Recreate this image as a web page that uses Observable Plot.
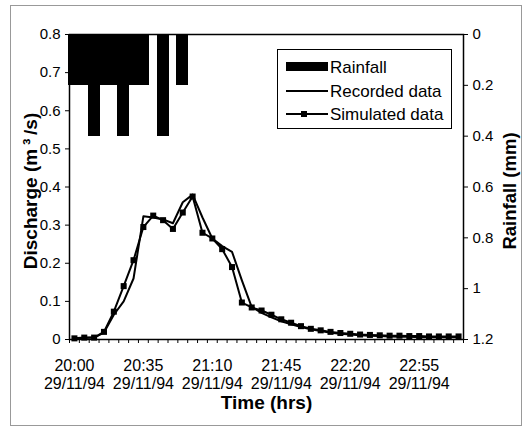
<!DOCTYPE html>
<html><head><meta charset="utf-8">
<script src="https://cdn.jsdelivr.net/npm/d3@7"></script>
<script src="https://cdn.jsdelivr.net/npm/@observablehq/plot@0.6"></script>
<style>
body{margin:0;background:#fff;font-family:"Liberation Sans",Arial,sans-serif;}
#wrap{position:relative;width:525px;height:427px;overflow:hidden;}
#wrap svg{position:absolute;left:0;top:0;}
#border{position:absolute;left:10px;top:5px;width:512px;height:421px;border:1px solid #999;box-sizing:border-box;pointer-events:none;}
#legend{position:absolute;left:277px;top:49px;width:175px;height:80px;border:1.5px solid #000;background:#fff;box-sizing:border-box;}
#legend svg{position:absolute;left:0;top:0;}
</style></head>
<body><div id="wrap"></div>
<script>
// Category times (5-minute steps)
const times = ["20:00","20:05","20:10","20:15","20:20","20:25","20:30","20:35","20:40","20:45",
  "20:50","20:55","21:00","21:05","21:10","21:15","21:20","21:25","21:30","21:35",
  "21:40","21:45","21:50","21:55","22:00","22:05","22:10","22:15","22:20","22:25",
  "22:30","22:35","22:40","22:45","22:50","22:55","23:00","23:05","23:10","23:15"];
const tickLabels = ["20:00","20:35","21:10","21:45","22:20","22:55"];
const dateLabel = "29/11/94";

// Discharge (m3/s)
const recorded = [0.003,0.004,0.005,0.018,0.065,0.10,0.16,0.323,0.32,0.315,
  0.305,0.36,0.38,0.32,0.265,0.245,0.23,0.155,0.085,0.07,
  0.058,0.048,0.04,0.033,0.027,0.022,0.018,0.015,0.013,0.011,
  0.01,0.009,0.008,0.007,0.007,0.006,0.006,0.006,0.006,0.006];
const simulated = [0.003,0.005,0.005,0.02,0.073,0.14,0.208,0.295,0.325,0.313,
  0.29,0.333,0.375,0.28,0.265,0.237,0.19,0.097,0.084,0.076,
  0.065,0.053,0.044,0.035,0.028,0.024,0.02,0.017,0.015,0.013,
  0.012,0.011,0.01,0.01,0.009,0.009,0.008,0.008,0.008,0.008];
// Rainfall (mm) for the first categories (rest are zero)
const rainfall = [0.2,0.2,0.4,0.2,0.2,0.4,0.2,0.2,0,0.4,0,0.2];

const leftTicks = [0,0.1,0.2,0.3,0.4,0.5,0.6,0.7,0.8];
const rainTicks = [0,0.2,0.4,0.6,0.8,1,1.2];
const qMax = 0.8, rMax = 1.2;

const toMin = s => { const [h,m] = s.split(":").map(Number); return (h-20)*60 + m; };
const rainToY = r => qMax - r * qMax / rMax;
const yToRain = v => Math.round((qMax - v) * rMax / qMax * 10) / 10;

const rows = times.map((t,i) => ({t: toMin(t), rec: recorded[i], sim: simulated[i]}));
const rainRows = rainfall.map((r,i) => ({t: toMin(times[i]), r})).filter(d => d.r > 0);
const half = 2.5;
const bounds = times.map(t => toMin(t) - half).concat([toMin(times[times.length-1]) + half]);

const font = "Liberation Sans, Arial, sans-serif";

const chart = Plot.plot({
  width: 525, height: 427,
  marginLeft: 69, marginRight: 62, marginTop: 34, marginBottom: 88,
  x: {domain: [bounds[0], bounds[bounds.length-1]]},
  y: {domain: [0, qMax]},
  style: {fontFamily: font, fontSize: "15px", color: "black", background: "transparent", overflow: "visible"},
  marks: [
    Plot.rect(rainRows, {x1: d => d.t - half, x2: d => d.t + half, y1: qMax, y2: d => rainToY(d.r),
      fill: "black", stroke: "black", strokeWidth: 1, insetLeft: -0.5, insetRight: -0.5, shapeRendering: "crispEdges"}),
    Plot.line(rows, {x: "t", y: "rec", stroke: "black", strokeWidth: 2}),
    Plot.line(rows, {x: "t", y: "sim", stroke: "black", strokeWidth: 2}),
    Plot.dot(rows, {x: "t", y: "sim", symbol: "square", r: 3.4, fill: "black", stroke: "none"}),
    Plot.frame({stroke: "black", strokeWidth: 1.5}),
    Plot.axisY(leftTicks, {anchor: "left", tickSize: 4, tickPadding: 5, fontSize: 15,
      tickFormat: v => v === 0 ? "0" : v.toFixed(1), label: null}),
    Plot.axisY(rainTicks.map(rainToY), {anchor: "right", tickSize: 4, tickPadding: 5, fontSize: 15,
      tickFormat: v => String(yToRain(v)), label: null}),
    Plot.axisX(bounds, {anchor: "bottom", tickSize: 4, tickFormat: () => "", label: null}),
    Plot.axisX(tickLabels.map(toMin), {anchor: "bottom", tickSize: 0, tickPadding: 18, fontSize: 16, lineHeight: 1.16,
      tickFormat: m => tickLabels[tickLabels.map(toMin).indexOf(m)] + "\n" + dateLabel, label: null}),
    Plot.text(["Discharge (m\u2009³\u2009/s)"], {text: d => d, frameAnchor: "left", textAnchor: "middle",
      dx: -39, dy: 4, rotate: -90, fontWeight: "bold", fontSize: 19}),
    Plot.text(["Rainfall (mm)"], {text: d => d, frameAnchor: "right", textAnchor: "middle",
      dx: 47, dy: 4, rotate: -90, fontWeight: "bold", fontSize: 18.5}),
    Plot.text(["Time (hrs)"], {text: d => d, frameAnchor: "bottom", dy: 69,
      fontWeight: "bold", fontSize: 19})
  ]
});

const wrap = document.getElementById("wrap");
wrap.appendChild(chart);

// Legend
const legend = document.createElement("div");
legend.id = "legend";
legend.innerHTML = `<svg width="175" height="80" font-family="${font}" font-size="17">
  <rect x="8" y="12" width="42" height="9" fill="black"/>
  <text x="52" y="23">Rainfall</text>
  <line x1="8" x2="50" y1="41" y2="41" stroke="black" stroke-width="2"/>
  <text x="52" y="47">Recorded data</text>
  <line x1="8" x2="50" y1="64" y2="64" stroke="black" stroke-width="2"/>
  <rect x="23" y="61" width="6" height="6" fill="black"/>
  <text x="52" y="70">Simulated data</text>
</svg>`;
wrap.appendChild(legend);

const border = document.createElement("div");
border.id = "border";
wrap.appendChild(border);
</script>
</body></html>
